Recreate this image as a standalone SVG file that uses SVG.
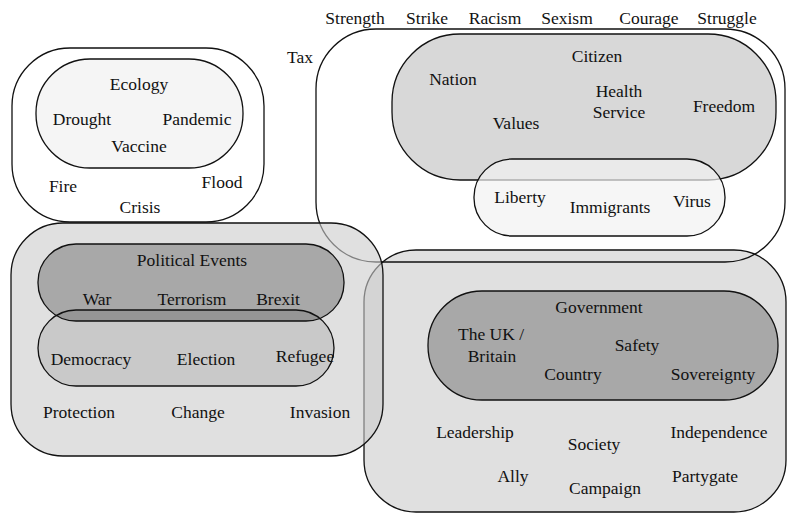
<svg xmlns="http://www.w3.org/2000/svg" width="788" height="513" viewBox="0 0 788 513">
<style>
text{font-family:'Liberation Serif',Tinos,'Times New Roman','DejaVu Serif',serif;font-size:17.5px;fill:#111;text-anchor:middle}
.s{stroke:#111;stroke-width:1.3}
.white{fill:#fff}
.none{fill:none}
.eco{fill:#f5f5f5}
.cit{fill:#d8d8d8}
.lib{fill:#f2f2f2;fill-opacity:0.7}
.pol{fill:#cbcbcb;fill-opacity:0.6}
.gov{fill:#e0e0e0}
.dark{fill:#000;fill-opacity:0.25}
.mid{fill:#000;fill-opacity:0.1}
</style>
<rect width="788" height="513" fill="#fff"/>
<g font-family="Liberation Serif, serif">
<g id="top-words">
<text x="355" y="24">Strength</text>
<text x="427" y="24">Strike</text>
<text x="495" y="24">Racism</text>
<text x="567" y="24">Sexism</text>
<text x="649" y="24">Courage</text>
<text x="727" y="24">Struggle</text>
<text x="300" y="63">Tax</text>
</g>
<g id="crisis-set">
<rect class="s white" x="12" y="48" width="252" height="174" rx="58"/>
<text x="63" y="192">Fire</text>
<text x="222" y="188">Flood</text>
<text x="140" y="213">Crisis</text>
</g>
<g id="ecology-set">
<rect class="s eco" x="36" y="59" width="207" height="109" rx="54"/>
<text x="139" y="90">Ecology</text>
<text x="82" y="125">Drought</text>
<text x="197" y="125">Pandemic</text>
<text x="139" y="152">Vaccine</text>
</g>
<g id="society-set">
<rect class="s gov" x="364" y="250" width="422" height="262" rx="52"/>
<text x="475" y="438">Leadership</text>
<text x="594" y="450">Society</text>
<text x="719" y="438">Independence</text>
<text x="513" y="482">Ally</text>
<text x="605" y="494">Campaign</text>
<text x="705" y="482">Partygate</text>
</g>
<g id="government-set">
<rect class="s dark" x="428" y="291" width="350" height="109" rx="54"/>
<text x="599" y="313">Government</text>
<text x="491" y="340">The UK /</text>
<text x="492" y="362">Britain</text>
<text x="637" y="351">Safety</text>
<text x="573" y="380">Country</text>
<text x="713" y="380">Sovereignty</text>
</g>
<g id="strength-set">
<rect class="s none" x="316" y="29" width="469" height="233" rx="60"/>
</g>
<g id="citizen-set">
<rect class="s cit" x="392" y="34" width="384" height="146" rx="68"/>
<text x="597" y="62">Citizen</text>
<text x="453" y="85">Nation</text>
<text x="619" y="97">Health</text>
<text x="619" y="118">Service</text>
<text x="724" y="112">Freedom</text>
<text x="516" y="129">Values</text>
</g>
<g id="liberty-set">
<rect class="s lib" x="474" y="159" width="251" height="77" rx="38"/>
<text x="520" y="203">Liberty</text>
<text x="610" y="213">Immigrants</text>
<text x="692" y="207">Virus</text>
</g>
<g id="protection-set">
<rect class="s pol" x="11" y="223" width="372" height="233" rx="52"/>
<text x="79" y="418">Protection</text>
<text x="198" y="418">Change</text>
<text x="320" y="418">Invasion</text>
</g>
<g id="political-events-set">
<rect class="s dark" x="38" y="244" width="306" height="77" rx="38"/>
<text x="192" y="266">Political Events</text>
<text x="97" y="305">War</text>
<text x="192" y="305">Terrorism</text>
<text x="278" y="305">Brexit</text>
</g>
<g id="democracy-set">
<rect class="s mid" x="38" y="310" width="296" height="76" rx="38"/>
<text x="91" y="365">Democracy</text>
<text x="206" y="365">Election</text>
<text x="305" y="362">Refugee</text>
</g>
</g>
</svg>
